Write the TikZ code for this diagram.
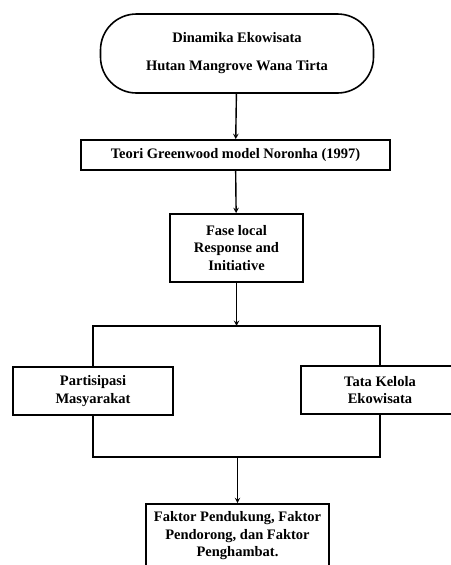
\documentclass[tikz,border=0pt]{standalone}
\usepackage{fontspec}
\setmainfont{Liberation Serif}
\usepackage{tikz}
\usetikzlibrary{positioning,calc}

\begin{document}
\begin{tikzpicture}[
      x=1pt, y=-1pt,
      block/.style={rectangle, draw=black, line width=1.6pt, align=center, inner sep=2pt, font=\bfseries\fontsize{14.5}{17.5}\selectfont},
      terminal/.style={block, rounded corners=36pt, font=\bfseries\fontsize{14.5}{28}\selectfont},
      arrow/.style={->, >=stealth, line width=1.4pt, black},
      link/.style={line width=1.4pt, black}
    ]
      \useasboundingbox (0,0) rectangle (450,565);
      \node[terminal, minimum width=273pt, minimum height=79pt] (dinamika) at (237,53.5) {Dinamika Ekowisata\\Hutan Mangrove Wana Tirta};
      \node[block, minimum width=309pt, minimum height=30pt] (teori) at (235.5,155) {Teori Greenwood model Noronha (1997)};
      \node[block, minimum width=133pt, minimum height=68pt] (fase) at (236.5,248) {Fase local\\Response and\\Initiative};
      \node[block, minimum width=160pt, minimum height=48pt] (partisipasi) at (93,391) {Partisipasi\\Masyarakat};
      \node[block, minimum width=158pt, minimum height=48pt] (tatakelola) at (380,390) {Tata Kelola\\Ekowisata};
      \node[block, minimum width=183pt, minimum height=64pt] (faktor) at (237.5,536) {Faktor Pendukung, Faktor\\Pendorong, dan Faktor\\Penghambat.};

      \coordinate (split) at (fase.south |- 0,326);
      \coordinate (merge) at (faktor.north |- 0,457);

      \draw[arrow] (dinamika) -- (teori);
      \draw[arrow] (teori) -- (fase);
      \draw[arrow] (fase) -- (split);
      \draw[link] (partisipasi.north) |- (split) -| (tatakelola.north);
      \draw[link] (partisipasi.south) |- (merge) -| (tatakelola.south);
      \draw[arrow] (merge) -- (faktor);
    \end{tikzpicture}
\end{document}
